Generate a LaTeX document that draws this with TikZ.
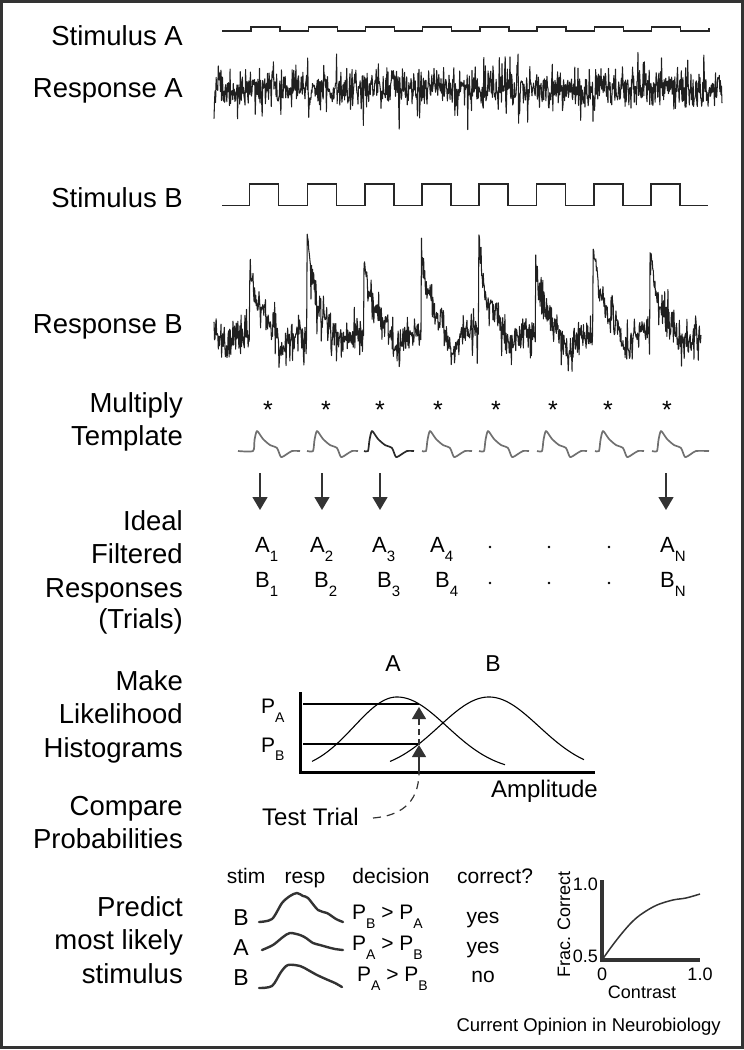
\documentclass[tikz,border=0pt]{standalone}
\usepackage{fontspec}
\setmainfont{Liberation Sans}
\usetikzlibrary{arrows.meta}
\newcommand{\fsz}[1]{\fontsize{#1}{#1}\selectfont}
\newcommand{\lowsub}[3]{\raisebox{-#2pt}{\fontsize{#1}{#1}\selectfont #3}}
\definecolor{dk}{HTML}{333333}
\definecolor{tgray}{HTML}{707070}
\definecolor{tdark}{HTML}{2A2A2A}
\begin{document}
\begin{tikzpicture}[x=1pt,y=-1pt,
  declare function={spk(\u)=\u*\u*\u*\u*\u; phs(\t)=mod(\t+322.4,57.2); amp(\t)=1+0.18*sin(137*floor((\t+322.4)/57.2));},
  lbl/.style={anchor=base east, inner sep=0pt, font=\fsz{27.5}},
  stimline/.style={line width=1.4pt, draw=black!85},
  respline/.style={line width=1.05pt, line join=round, draw=black!88},
  tmpl/.style={line width=1.7pt, line join=round},
  ast/.style={anchor=base, inner sep=0pt, font=\fsz{25}},
  bigarr/.style={line width=1.4pt, draw=dk, -{Triangle[width=15pt,length=13pt]}},
  ablbl/.style={anchor=base west, inner sep=0pt, font=\fsz{22}},
  hcurve/.style={line width=1.1pt},
  harr/.style={line width=1.2pt, draw=dk, -{Triangle[width=14pt,length=12pt]}},
  tbl/.style={anchor=base, inner sep=0pt, font=\fsz{21}},
  small/.style={inner sep=0pt, font=\fsz{18}},
  bump/.style={line width=2.4pt, draw=dk, line join=round, line cap=round}
]
\useasboundingbox (0,0) rectangle (744,1050);
\draw[line width=3pt, draw=dk] (1.5,1.5) rectangle (742.5,1047);

% left labels
\node[lbl] (lsa) at (183,45) {Stimulus A};
\node[lbl] (lra) at (183,97) {Response A};
\node[lbl] (lsb) at (183,207) {Stimulus B};
\node[lbl] (lrb) at (183,333) {Response B};
\node[lbl] (lmul) at (183,412) {Multiply};
\node[lbl] (ltem) at (183,445) {Template};
\node[lbl] (lid) at (183,530) {Ideal};
\node[lbl] (lfi) at (183,563) {Filtered};
\node[lbl] (lre) at (183,597) {Responses};
\node[lbl] (ltr) at (183,628) {(Trials)};
\node[lbl] (lma) at (183,690) {Make};
\node[lbl] (lli) at (183,723) {Likelihood};
\node[lbl] (lhi) at (183,757) {Histograms};
\node[lbl] (lco) at (183,815) {Compare};
\node[lbl] (lpr) at (183,848) {Probabilities};
\node[lbl] (lpd) at (183,916) {Predict};
\node[lbl] (lml) at (183,949) {most likely};
\node[lbl] (lst) at (183,983) {stimulus};

% stimulus traces
\draw[stimline] (222,31) \foreach \r in {251,308.2,365.4,422.6,479.8,537,594.2,651.4} { -- (\r,31) -- (\r,27) -- ({\r+29},27) -- ({\r+29},31) } -- (709,31) -- (709,27.5);
\draw[stimline] (222,205.5) \foreach \r in {249.6,307.6,364.8,422,479,536.6,594,651} { -- (\r,205.5) -- (\r,184) -- ({\r+29},184) -- ({\r+29},205.5) } -- (708,205.5);

% responses
\pgfmathsetseed{7}
\draw[respline] plot[domain=214:722, samples=950, variable=\t] (\t, {89 + 8.5*(rand+rand+rand) + 24*spk(rand)});
\pgfmathsetseed{11}
\draw[respline] plot[domain=214:701, samples=900, variable=\t] (\t, {337 - amp(\t)*(50*exp(-phs(\t)/5) + 42*exp(-phs(\t)/20)) + 18*exp(-((phs(\t)-33)/8)*((phs(\t)-33)/8)) + 7.5*(rand+rand+rand) + 24*spk(rand)});

% asterisks
\foreach \x [count=\i] in {268,326,380,438,496,553,608,667}
  \node[ast] (as\i) at (\x,418) {*};

% templates
\foreach \R/\L/\E/\c [count=\i] in {253/15/47/tgray, 313/6/45/tgray, 368/4/46/tdark, 426/4/46/tgray, 484/5/45/tgray, 542/5/45/tgray, 599/4/45/tgray, 657/5/52/tgray}
  \draw[tmpl, draw=\c] plot[smooth, tension=0.4] coordinates {({\R-\L},451) (\R,451) ({\R+1.5},440) ({\R+4},431) ({\R+10},439) ({\R+17},445) ({\R+24},448) ({\R+28},457) ({\R+34},454) ({\R+39},451) ({\R+\E},451)};

% arrows
\foreach \x [count=\i] in {260,322,380,666} {
  \coordinate (ar\i s) at (\x,473);
  \coordinate (ar\i e) at (\x,510);
  \draw[bigarr] (ar\i s) -- (ar\i e);
}

% filtered responses
\node[ablbl] (a1) at (255,552) {A\lowsub{15}{9}{1}};
\node[ablbl] (a2) at (310,552) {A\lowsub{15}{9}{2}};
\node[ablbl] (a3) at (372,552) {A\lowsub{15}{9}{3}};
\node[ablbl] (a4) at (430,552) {A\lowsub{15}{9}{4}};
\node[ablbl] (an) at (660,552) {A\lowsub{15}{9}{N}};
\node[ablbl] (b1) at (255,587) {B\lowsub{15}{9}{1}};
\node[ablbl] (b2) at (314,587) {B\lowsub{15}{9}{2}};
\node[ablbl] (b3) at (377,587) {B\lowsub{15}{9}{3}};
\node[ablbl] (b4) at (435,587) {B\lowsub{15}{9}{4}};
\node[ablbl] (bn) at (660,587) {B\lowsub{15}{9}{N}};
\foreach \x in {490,549,609} {
  \fill (\x,547) circle (1.3);
  \fill (\x,583) circle (1.3);
}

% histograms
\node[anchor=base, inner sep=0pt, font=\fsz{23}] (hA) at (393,671) {A};
\node[anchor=base, inner sep=0pt, font=\fsz{23}] (hB) at (493,671) {B};
\node[anchor=base west, inner sep=0pt, font=\fsz{21}] (pA) at (261,713) {P\lowsub{14}{9}{A}};
\node[anchor=base west, inner sep=0pt, font=\fsz{21}] (pB) at (261,752) {P\lowsub{14}{8}{B}};
\draw[line width=3pt] (300,692) -- (300,772) -- (595,772);
\draw[hcurve] plot[domain=312:505, samples=120, variable=\t] (\t, {772 - 75*exp(-((\t-397)*(\t-397))/(2*(43+7*(\t>397))*(43+7*(\t>397))))});
\draw[hcurve] plot[domain=390:584, samples=120, variable=\t] (\t, {772 - 75*exp(-((\t-489)*(\t-489))/(2*50*50))});
\coordinate (pal) at (303,704);
\coordinate (par) at (419,704);
\coordinate (pbl) at (303,744);
\coordinate (pbr) at (419,744);
\draw[hcurve] (pal) -- (par);
\draw[hcurve] (pbl) -- (pbr);
\coordinate (tipA) at (419,707);
\coordinate (tipB) at (419,745);
\coordinate (axpt) at (419,772);
\draw[harr] (axpt) -- (tipB);
\draw[harr, dash pattern=on 6pt off 4pt] (tipB) -- (tipA);
\node[anchor=base east, inner sep=0pt, font=\fsz{24}] (amp) at (598,797) {Amplitude};
\node[anchor=base west, inner sep=0pt, font=\fsz{24}] (tt) at (262,825) {Test Trial};
\coordinate (ttend) at (373,818);
\draw[line width=1.2pt, draw=dk, dash pattern=on 8pt off 6pt] (ttend) .. controls (398,816) and (419,805) .. (axpt);

% prediction table
\node[tbl] (hst) at (246,883) {stim};
\node[tbl] (hre) at (305,883) {resp};
\node[tbl] (hde) at (391,883) {decision};
\node[tbl] (hco) at (495,883) {correct?};
\node[anchor=base, inner sep=0pt, font=\fsz{23}] (s1) at (241,925) {B};
\node[anchor=base, inner sep=0pt, font=\fsz{23}] (s2) at (241,955) {A};
\node[anchor=base, inner sep=0pt, font=\fsz{23}] (s3) at (241,985) {B};
\draw[bump] plot[smooth, tension=0.5] coordinates {(259,922) (272,919) (282,903) (290,896) (297,893) (303,896) (308,898) (318,910) (327,913) (336,919) (343,922)};
\draw[bump] plot[smooth, tension=0.5] coordinates {(262,950) (273,945) (283,937) (290,933) (300,935) (306,938) (313,943) (320,945) (327,947) (335,949) (343,950)};
\draw[bump] plot[smooth, tension=0.5] coordinates {(259,988) (272,986) (281,972) (288,965) (300,966) (308,970) (317,975) (328,980) (335,983) (342,987)};
\node[anchor=base west, inner sep=0pt, font=\fsz{21}] (d1) at (352,919) {P\lowsub{14}{9}{B} > P\lowsub{14}{9}{A}};
\node[anchor=base west, inner sep=0pt, font=\fsz{21}] (d2) at (352,950) {P\lowsub{14}{9}{A} > P\lowsub{14}{9}{B}};
\node[anchor=base west, inner sep=0pt, font=\fsz{21}] (d3) at (357,981) {P\lowsub{14}{9}{A} > P\lowsub{14}{9}{B}};
\node[tbl] (c1) at (483,923) {yes};
\node[tbl] (c2) at (483,953) {yes};
\node[tbl] (c3) at (483,982) {no};

% fraction correct plot
\draw[line width=4pt, draw=dk] (602,880) -- (602,960) -- (700,960);
\draw[line width=1.5pt, draw=dk] plot[smooth, tension=0.6] coordinates {(602,960) (612,946) (623,932) (633,921) (643,913) (657,905) (673,900) (686,898) (700,894)};
\node[small, anchor=base east] (y1) at (598,890) {1.0};
\node[small, anchor=base east] (y0) at (598,962) {0.5};
\node[small, anchor=base] (x0) at (602,980) {0};
\node[small, anchor=base] (x1) at (700,980) {1.0};
\node[small, anchor=base] (xl) at (642,998) {Contrast};
\node[small, anchor=base west, rotate=90] (yl) at (570,978) {Frac. Correct};
\node[inner sep=0pt, font=\fsz{18.5}, anchor=base east] (src) at (721,1031) {Current Opinion in Neurobiology};
\end{tikzpicture}
\end{document}
